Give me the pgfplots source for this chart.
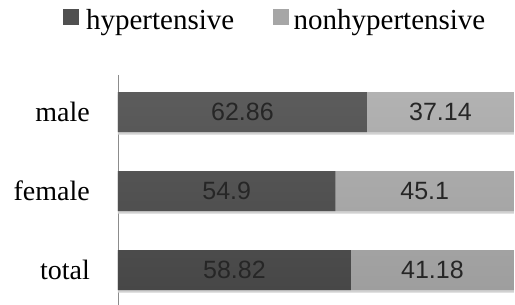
\documentclass[border=0pt]{standalone}
\usepackage{fontspec}
\setmainfont{Liberation Serif}
\newfontfamily\sansf{Liberation Sans}
\usepackage{pgfplots}
\pgfplotsset{compat=1.18}
\definecolor{darktop}{HTML}{5C5C5C}
\definecolor{darkbot}{HTML}{474747}
\definecolor{lighttop}{HTML}{B2B2B2}
\definecolor{lightbot}{HTML}{9E9E9E}
\definecolor{darkbar}{HTML}{505050}
\definecolor{lightbar}{HTML}{A6A6A6}
\definecolor{axisgray}{HTML}{8C8C8C}
\begin{document}
\begin{tikzpicture}
\path[use as bounding box] (-118pt,0pt) rectangle (397pt,305pt);
\begin{axis}[
  at={(0pt,0pt)}, anchor=south west,
  scale only axis,
  width=396pt, height=230pt,
  xmin=0, xmax=100,
  ymin=-0.47, ymax=2.44,
  y dir=reverse,
  axis x line=none,
  axis y line*=left,
  y axis line style={draw=axisgray, line width=0.8pt},
  ytick={0,1,2},
  yticklabels={male,female,total},
  major tick length=0pt,
  yticklabel style={font=\fontsize{28}{30}\selectfont, inner sep=0pt, xshift=-28pt},
  clip=false,
  legend columns=2,
  legend style={draw=none, fill=none, at={(0.394,1.239)}, anchor=center,
    font=\fontsize{29}{32}\selectfont, nodes={inner sep=0pt},
    /tikz/every even column/.append style={column sep=39pt}},
  legend cell align=left,
]
% soft shadow under bars
\addplot[xbar, bar width=40pt, bar shift=-2.5pt, fill=black!18, draw=none, forget plot] coordinates {(100,0) (100,1) (100,2)};
% light (nonhypertensive) segment spans 0..100 behind the dark segment
\addplot[xbar, bar width=40pt, bar shift=0pt, top color=lighttop, bottom color=lightbot, draw=none, forget plot] coordinates {(100,0) (100,1) (100,2)};
\addplot[xbar, bar width=40pt, bar shift=0pt, top color=darktop, bottom color=darkbot, draw=none, forget plot] coordinates {(62.86,0) (54.9,1) (58.82,2)};
% value labels
\addplot[only marks, mark=none, forget plot, draw=none,
  nodes near coords, point meta=explicit symbolic,
  every node near coord/.style={anchor=center, font=\sansf\fontsize{25}{28}\selectfont, text=black!85}]
  coordinates {(31.43,0) [62.86] (27.45,1) [54.9] (29.41,2) [58.82]
               (81.43,0) [37.14] (77.45,1) [45.1] (79.41,2) [41.18]};
\addlegendimage{area legend, legend image code/.code={\fill[darkbar] (0pt,-4pt) rectangle (15pt,11pt);}}
\addlegendentry{\hspace*{8pt}hypertensive}
\addlegendimage{area legend, legend image code/.code={\fill[lightbar] (0pt,-4pt) rectangle (15pt,11pt);}}
\addlegendentry{\hspace*{5pt}nonhypertensive}
\end{axis}
\end{tikzpicture}
\end{document}
